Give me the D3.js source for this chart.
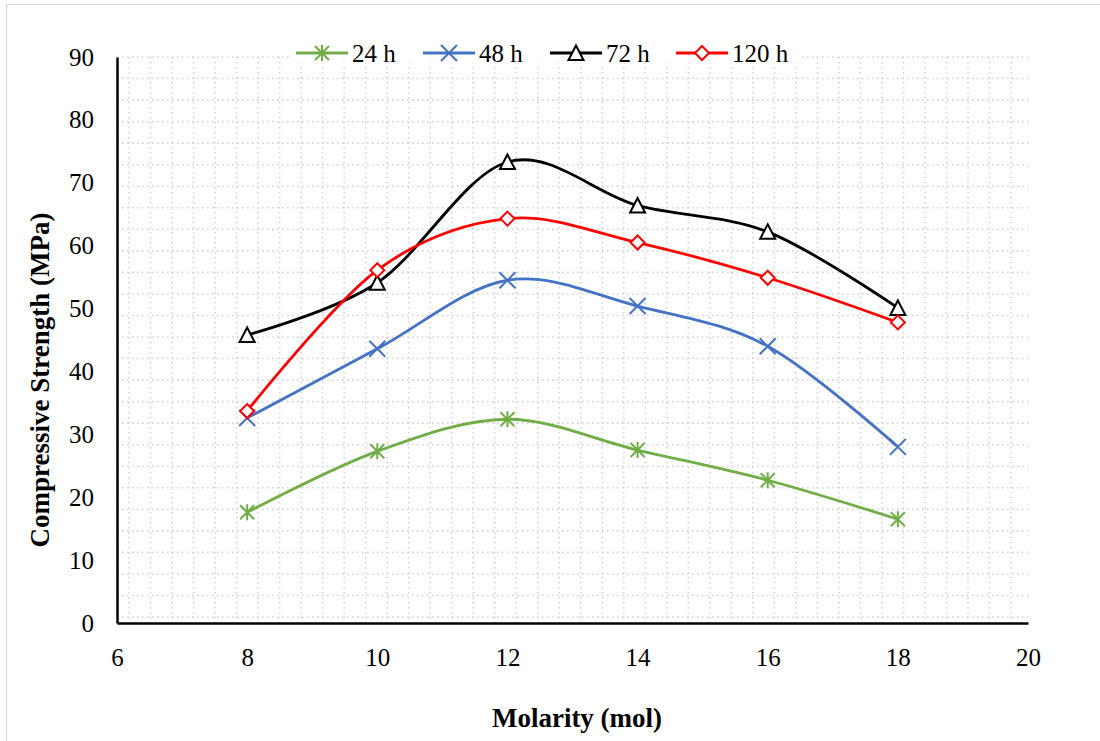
<!DOCTYPE html>
<html>
<head>
<meta charset="utf-8">
<script src="https://cdn.jsdelivr.net/npm/d3@7"></script>
<style>
  body { margin: 0; background: #fff; }
  text { font-family: "Liberation Serif", "Times New Roman", serif; }
</style>
</head>
<body>
<div id="chart"></div>
<script>
// Data
const molarity = [8, 10, 12, 14, 16, 18];
const h24 = [17.6, 27.3, 32.4, 27.5, 22.7, 16.5];
const h48 = [32.6, 43.6, 54.5, 50.4, 44.0, 28.0];
const h72 = [45.8, 54.1, 73.3, 66.4, 62.2, 50.1];
const h120 = [33.7, 56.1, 64.3, 60.5, 54.9, 47.8];
const xTicks = [6, 8, 10, 12, 14, 16, 18, 20];
const yTicks = [0, 10, 20, 30, 40, 50, 60, 70, 80, 90];

const seriesList = [
  { name: "24 h", values: h24, color: "#70AD47", marker: "star" },
  { name: "48 h", values: h48, color: "#4472C4", marker: "cross" },
  { name: "72 h", values: h72, color: "#000000", marker: "triangle" },
  { name: "120 h", values: h120, color: "#FF0000", marker: "diamond" }
];

const width = 1100, height = 741;
const plotLeft = 117, plotRight = 1028, plotTop = 57, plotBottom = 623;

const svg = d3.select("#chart")
  .append("svg")
  .attr("width", width)
  .attr("height", height);

// outer chart border
svg.append("rect")
  .attr("x", 6.5).attr("y", 4.5)
  .attr("width", 1100).attr("height", 740)
  .attr("fill", "none")
  .attr("stroke", "#d9d9d9")
  .attr("stroke-width", 1);

const x = d3.scaleLinear().domain([6, 20]).range([plotLeft, plotRight]);
const y = d3.scaleLinear().domain([0, 90]).range([plotBottom, plotTop]);

// dotted gridlines
const gridY = d3.range(27).map(k => 90 - k * 3.425);
const gridX = d3.range(42).map(k => 6.185 + k * 0.3306);

svg.append("g")
  .selectAll("line")
  .data(gridY)
  .join("line")
  .attr("x1", plotLeft).attr("x2", plotRight)
  .attr("y1", d => y(d)).attr("y2", d => y(d))
  .attr("stroke", "#d4d4d4")
  .attr("stroke-width", 1.6)
  .attr("stroke-dasharray", "1.6,3.4");

svg.append("g")
  .selectAll("line")
  .data(gridX)
  .join("line")
  .attr("x1", d => x(d)).attr("x2", d => x(d))
  .attr("y1", plotTop).attr("y2", plotBottom)
  .attr("stroke", "#d4d4d4")
  .attr("stroke-width", 1.6)
  .attr("stroke-dasharray", "1.6,3.4");

// axes
const xAxis = svg.append("g")
  .attr("transform", `translate(0,${plotBottom})`)
  .call(d3.axisBottom(x).tickValues(xTicks).tickSize(0).tickPadding(25));
const yAxis = svg.append("g")
  .attr("transform", `translate(${plotLeft},0)`)
  .call(d3.axisLeft(y).tickValues(yTicks).tickSize(0).tickPadding(23));

[xAxis, yAxis].forEach(a => {
  a.select(".domain").attr("stroke", "#000").attr("stroke-width", 2.5);
  a.selectAll("text")
    .attr("font-family", "Liberation Serif, Times New Roman, serif")
    .attr("font-size", 25)
    .attr("fill", "#000");
});

// axis titles
svg.append("text")
  .attr("x", 577).attr("y", 727)
  .attr("text-anchor", "middle")
  .attr("font-size", 27)
  .attr("font-weight", "bold")
  .text("Molarity (mol)");

svg.append("text")
  .attr("transform", "translate(49,380) rotate(-90)")
  .attr("text-anchor", "middle")
  .attr("font-size", 27)
  .attr("font-weight", "bold")
  .text("Compressive Strength (MPa)");

// markers
function drawMarker(g, type, color, cx, cy) {
  const s = 7;
  if (type === "star") {
    g.append("path")
      .attr("d", `M${cx - s},${cy - s}L${cx + s},${cy + s}M${cx - s},${cy + s}L${cx + s},${cy - s}M${cx},${cy - s - 1}L${cx},${cy + s + 1}`)
      .attr("stroke", color).attr("stroke-width", 2).attr("fill", "none");
  } else if (type === "cross") {
    g.append("path")
      .attr("d", `M${cx - s - 1},${cy - s - 1}L${cx + s + 1},${cy + s + 1}M${cx - s - 1},${cy + s + 1}L${cx + s + 1},${cy - s - 1}`)
      .attr("stroke", color).attr("stroke-width", 2).attr("fill", "none");
  } else if (type === "triangle") {
    g.append("path")
      .attr("d", `M${cx},${cy - s - 0.5}L${cx + s + 0.5},${cy + s}L${cx - s - 0.5},${cy + s}Z`)
      .attr("stroke", color).attr("stroke-width", 2).attr("fill", "#fff");
  } else if (type === "diamond") {
    g.append("path")
      .attr("d", `M${cx},${cy - s}L${cx + s},${cy}L${cx},${cy + s}L${cx - s},${cy}Z`)
      .attr("stroke", color).attr("stroke-width", 2).attr("fill", "#fff");
  }
}

const line = d3.line()
  .x((d, i) => x(molarity[i]))
  .y(d => y(d))
  .curve(d3.curveCatmullRom.alpha(0));

seriesList.forEach(s => {
  const g = svg.append("g");
  g.append("path")
    .datum(s.values)
    .attr("d", line)
    .attr("fill", "none")
    .attr("stroke", s.color)
    .attr("stroke-width", 2.8);
  s.values.forEach((v, i) => drawMarker(g, s.marker, s.color, x(molarity[i]), y(v)));
});

// legend
const legendX = [296, 423, 550, 676];
const legendY = 53;
svg.append("rect")
  .attr("x", 290).attr("y", 38)
  .attr("width", 510).attr("height", 25)
  .attr("fill", "#fff");

seriesList.forEach((s, i) => {
  const g = svg.append("g");
  const lx = legendX[i];
  g.append("line")
    .attr("x1", lx).attr("x2", lx + 52)
    .attr("y1", legendY).attr("y2", legendY)
    .attr("stroke", s.color).attr("stroke-width", 2.8);
  drawMarker(g, s.marker, s.color, lx + 26, legendY);
  g.append("text")
    .attr("x", lx + 56).attr("y", legendY + 9)
    .attr("font-size", 25)
    .text(s.name);
});
</script>
</body>
</html>
